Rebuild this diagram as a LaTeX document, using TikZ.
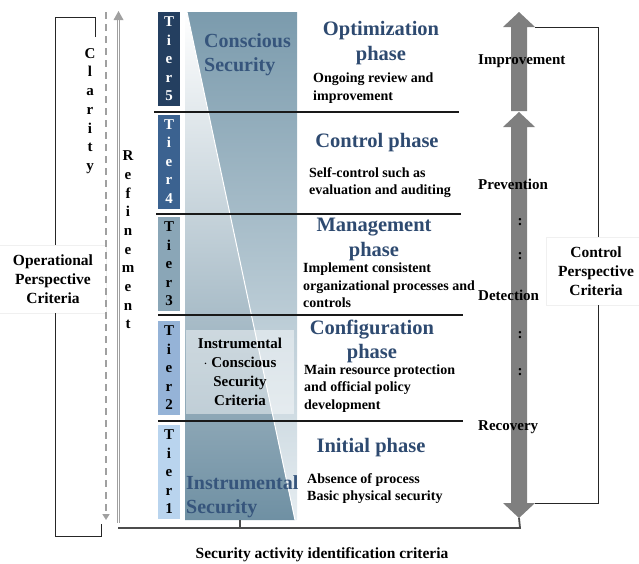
\documentclass[tikz,border=0pt]{standalone}
\usepackage{fontspec}
\setmainfont{Liberation Serif}
\usetikzlibrary{arrows.meta}
\definecolor{tierfive}{HTML}{243F60}
\definecolor{tierfour}{HTML}{3B6290}
\definecolor{tierthree}{HTML}{8AA6B7}
\definecolor{tiertwo}{HTML}{95B3D7}
\definecolor{tierone}{HTML}{B9D4EE}
\definecolor{titleblue}{HTML}{2E4A70}
\definecolor{zoneblue}{HTML}{36557C}
\definecolor{steeltop}{HTML}{7B9BAD}
\definecolor{steelbottom}{HTML}{E6EDF1}
\definecolor{deepsteel}{HTML}{6F90A3}
\definecolor{fatarrow}{HTML}{7F7F7F}
\definecolor{guide}{HTML}{A0A0A0}
\begin{document}
\begin{tikzpicture}[x=1pt,y=-1pt,
  tierbox/.style={fill=#1, minimum width=22pt, minimum height=94pt, inner sep=0pt,
    font=\bfseries\fontsize{15}{18.5}\selectfont, align=center},
  phasetitle/.style={font=\bfseries\fontsize{20.5}{24.5}\selectfont, text=titleblue, align=center, inner sep=0pt},
  phasebody/.style={font=\bfseries\fontsize{14}{17.5}\selectfont, align=left, anchor=west, inner sep=0pt},
  zonetitle/.style={font=\bfseries\fontsize{20}{24}\selectfont, text=zoneblue, align=left, anchor=west, inner sep=0pt},
  sidelabel/.style={font=\bfseries\fontsize{15}{18}\selectfont, anchor=west, inner sep=0pt},
  colon/.style={font=\bfseries\fontsize{15}{18}\selectfont, inner sep=0pt},
  vertword/.style={font=\bfseries\fontsize{15}{18.7}\selectfont, align=center, inner sep=0pt},
  criteriabox/.style={fill=white, draw=black!6, line width=0.6pt, inner sep=0pt, align=center,
    font=\bfseries\fontsize{15.5}{19}\selectfont},
  divider/.style={line width=1.5pt, black!90},
  bracket/.style={line width=1pt, black!85},
  baseline/.style={line width=1.8pt, black!70}]
\useasboundingbox (0,0) rectangle (639,563);

% security gradient: conscious part grows upward, instrumental part grows downward
\shade[top color=white, bottom color=deepsteel] (185,12) -- (187,12) -- (295,520) -- (185,520) -- cycle;
\shade[top color=steeltop, bottom color=steelbottom] (187,12) -- (297,12) -- (297,520) -- (295,520) -- cycle;
\draw[white, line width=1pt] (187,12) -- (295,520);

\node[zonetitle] (conscious) at (204,54.5) {Conscious\\Security};
\node[zonetitle] (instrumental) at (186,496.5) {Instrumental\\Security};

% mixed criteria panel
\node[fill=white, fill opacity=0.45, text opacity=1, minimum width=108pt, minimum height=84pt,
  inner sep=0pt, align=center, font=\bfseries\fontsize{15}{19}\selectfont] (mixed) at (240,372)
  {Instrumental\\$\cdot$ Conscious\\Security\\Criteria};

% tiers
\node[tierbox=tierfive, text=white] (t5) at (169,59) {T\\i\\e\\r\\5};
\node[tierbox=tierfour, text=white] (t4) at (169,161.5) {T\\i\\e\\r\\4};
\node[tierbox=tierthree, text=black] (t3) at (169,264) {T\\i\\e\\r\\3};
\node[tierbox=tiertwo, text=black] (t2) at (169,368) {T\\i\\e\\r\\2};
\node[tierbox=tierone, text=black] (t1) at (169,472) {T\\i\\e\\r\\1};

% phase dividers
\coordinate (d1l) at (154,112); \coordinate (d1r) at (459,112);
\coordinate (d2l) at (156,214); \coordinate (d2r) at (461,214);
\coordinate (d3l) at (158,315); \coordinate (d3r) at (463,315);
\coordinate (d4l) at (158,421); \coordinate (d4r) at (463,421);
\draw[divider] (d1l) -- (d1r);
\draw[divider] (d2l) -- (d2r);
\draw[divider] (d3l) -- (d3r);
\draw[divider] (d4l) -- (d4r);

% phases
\node[phasetitle] (p5) at (381,43) {Optimization\\phase};
\node[phasebody] (b5) at (313,88) {Ongoing review and\\improvement};
\node[phasetitle] (p4) at (377,143) {Control phase};
\node[phasebody] (b4) at (309,182.5) {Self-control such as\\evaluation and auditing};
\node[phasetitle] (p3) at (374,239.5) {Management\\phase};
\node[phasebody] (b3) at (303,285.5) {Implement consistent\\organizational processes and\\controls};
\node[phasetitle] (p2) at (372,341.5) {Configuration\\phase};
\node[phasebody] (b2) at (304,388.5) {Main resource protection\\and official policy\\development};
\node[phasetitle] (p1) at (371,448) {Initial phase};
\node[phasebody] (b1) at (307,488.5) {Absence of process\\Basic physical security};

% control flow arrows
\fill[fatarrow] (511,111) -- (511,27) -- (503,27) -- (519,12) -- (535,27) -- (527,27) -- (527,111) -- cycle;
\fill[fatarrow] (519,112) -- (535,127) -- (527,127) -- (527,503) -- (535,503) -- (519,518)
  -- (503,503) -- (511,503) -- (511,127) -- (503,127) -- cycle;
\coordinate (uptip) at (535,27);
\coordinate (downbase) at (535,503);
\coordinate (downtip) at (519,518);

\node[sidelabel] (improve) at (478,61) {Improvement};
\node[sidelabel] (prevent) at (478,184) {Prevention};
\node[colon] (c1) at (520,222) {:};
\node[colon] (c2) at (520,256) {:};
\node[sidelabel] (detect) at (478,295) {Detection};
\node[colon] (c3) at (520,335) {:};
\node[colon] (c4) at (520,372) {:};
\node[sidelabel] (recover) at (478,427) {Recovery};

% control perspective bracket
\node[criteriabox, minimum width=100pt, minimum height=68pt] (cpc) at (596,271) {Control\\Perspective\\Criteria};
\draw[bracket] (uptip) -- (598,27) -- (598,237);
\draw[bracket] (598,305) -- (598,503) -- (downbase);

% operational perspective bracket
\node[criteriabox, minimum width=107pt, minimum height=68pt] (opc) at (53,279) {Operational\\Perspective\\Criteria};
\coordinate (clarTop) at (95,37);
\coordinate (dashEnd) at (101,524);
\draw[bracket] (clarTop) -- (95,17) -- (55,17) -- (55,245);
\draw[bracket] (55,313) -- (55,536) -- (101,536) -- (dashEnd);

% clarity and refinement guides
\draw[guide, line width=2pt, dash pattern=on 7pt off 5pt, -{Triangle[width=7pt,length=6pt]}] (106,12) -- (106,520);
\draw[guide, line width=0.9pt, double=white, double distance=1.6pt] (118.5,523) -- (118.5,19);
\fill[guide] (113.5,20) -- (118.5,11) -- (123.5,20) -- cycle;
\node[vertword] (clarity) at (90,111) {C\\l\\a\\r\\i\\t\\y};
\node[vertword] (refine) at (128,240) {R\\e\\f\\i\\n\\e\\m\\e\\n\\t};

% activity identification base line
\coordinate (baseL) at (118,528);
\coordinate (baseR) at (520,528);
\draw[baseline] (baseL) -- (baseR) -- (downtip);
\draw[baseline] (240,520) -- (240,528);
\node[font=\bfseries\fontsize{15.5}{18}\selectfont, inner sep=0pt] (sai) at (322,555) {Security activity identification criteria};

\end{tikzpicture}
\end{document}
